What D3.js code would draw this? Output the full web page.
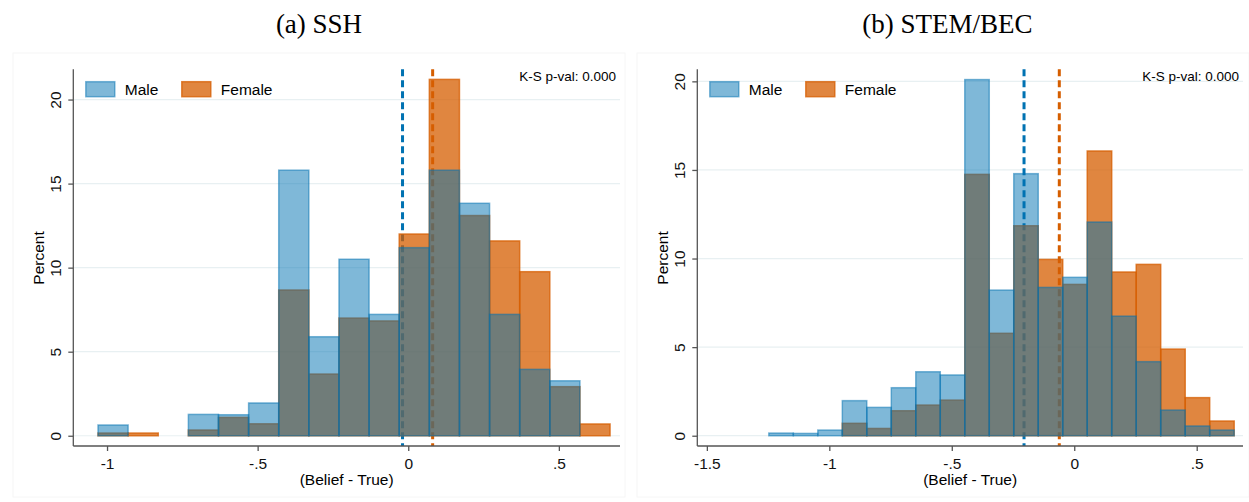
<!DOCTYPE html>
<html>
<head>
<meta charset="utf-8">
<script src="https://cdn.jsdelivr.net/npm/d3@7"></script>
<style>
  body { margin: 0; background: #fff; }
  svg { display: block; }
</style>
</head>
<body>
<div id="chart"></div>
<script>
// histogram bins (width 0.1), percent of each group per bin
var binWidth = 0.1;
var sshBinStart = -1.03;
var sshMale   = [0.64, 0, 0, 1.27, 1.25, 1.95, 15.8, 5.89, 10.5, 7.22, 11.19, 15.8, 13.83, 7.22, 3.95, 3.27, 0];
var sshFemale = [0.16, 0.16, 0, 0.34, 1.09, 0.71, 8.67, 3.67, 7.0, 6.83, 12.0, 21.2, 13.1, 11.59, 9.76, 2.92, 0.70];
var sshMeans  = [-0.019, 0.081];   // male, female

var stemBinStart = -1.247;
var stemMale   = [0.15, 0.13, 0.32, 1.98, 1.60, 2.71, 3.61, 3.43, 20.1, 8.22, 14.79, 8.37, 8.94, 12.06, 6.75, 4.18, 1.45, 0.55, 0.32];
var stemFemale = [0, 0, 0, 0.70, 0.41, 1.41, 1.73, 2.01, 14.75, 5.78, 11.85, 9.95, 8.54, 16.07, 9.24, 9.67, 4.89, 2.15, 0.83];
var stemMeans  = [-0.205, -0.061];

var yTicks = [0, 5, 10, 15, 20];
var sshXTicks = [-1, -0.5, 0, 0.5];
var stemXTicks = [-1.5, -1, -0.5, 0, 0.5];
var groups = ["Male", "Female"];

var W = 1249, H = 502;
var blue = "rgb(0,114,178)", orange = "rgb(213,94,0)";
var sans = "'Liberation Sans', Arial, sans-serif";

var svg = d3.select("#chart").append("svg").attr("width", W).attr("height", H);

// format like stata: -.5, .5
function fmt(v) {
    if (v === 0) return "0";
    return String(v).replace(/^(-?)0\./, "$1.");
}

// turn a list of bin percents into {x0, v} for the non-empty bins
function bins(start, vals) {
    return vals.map((v, i) => ({ x0: start + i * binWidth, v: v })).filter(d => d.v > 0);
}

function panel(opt) {
    var g = svg.append("g");
    // faint outer frame
    g.append("rect").attr("x", opt.frame[0]).attr("y", 53).attr("width", opt.frame[1] - opt.frame[0]).attr("height", 444)
        .attr("fill", "none").attr("stroke", "#f6f6f6");

    var x = d3.scaleLinear().domain(opt.xDomain).range([opt.left, opt.right]);
    var y = d3.scaleLinear().domain(opt.yDomain).range([446, 69.3]);

    // title
    g.append("text").attr("x", opt.titleX).attr("y", 33).attr("text-anchor", "middle")
        .style("font-family", "'Liberation Serif', 'Times New Roman', serif").style("font-size", "27px")
        .text(opt.title);

    // gridlines
    g.selectAll(".grid").data(yTicks).enter().append("line")
        .attr("x1", opt.left).attr("x2", opt.right)
        .attr("y1", d => y(d)).attr("y2", d => y(d))
        .attr("stroke", "#e8f0f2").attr("stroke-width", 1.2);

    // mean lines (under the bars)
    g.selectAll(".mean").data(opt.means).enter().append("line")
        .attr("x1", d => x(d)).attr("x2", d => x(d))
        .attr("y1", 69.3).attr("y2", 446)
        .attr("stroke", (d, i) => i == 0 ? blue : orange)
        .attr("stroke-width", 3).attr("stroke-dasharray", "7,4");

    var bw = x(binWidth) - x(0);
    // female first, male on top with transparency
    g.selectAll(".fem").data(bins(opt.start, opt.female)).enter().append("rect")
        .attr("x", d => x(d.x0))
        .attr("y", d => y(d.v))
        .attr("width", bw)
        .attr("height", d => y(0) - y(d.v))
        .attr("fill", orange).attr("fill-opacity", 0.75)
        .attr("stroke", orange).attr("stroke-opacity", 0.75).attr("stroke-width", 1.5);
    g.selectAll(".mal").data(bins(opt.start, opt.male)).enter().append("rect")
        .attr("x", d => x(d.x0))
        .attr("y", d => y(d.v))
        .attr("width", bw)
        .attr("height", d => y(0) - y(d.v))
        .attr("fill", blue).attr("fill-opacity", 0.5)
        .attr("stroke", blue).attr("stroke-opacity", 0.5).attr("stroke-width", 1.5);

    // axes
    var ax = d3.axisBottom(x).tickValues(opt.xTicks).tickSize(5).tickPadding(7).tickFormat(fmt);
    var xa = g.append("g").attr("transform", "translate(0,446)").call(ax);
    xa.select(".domain").attr("d", "M" + opt.left + ",0H" + opt.right);
    var ay = d3.axisLeft(y).tickValues(yTicks).tickSize(5).tickFormat(fmt);
    var ya = g.append("g").attr("transform", "translate(" + opt.left + ",0)").call(ay);
    ya.select(".domain").attr("d", "M0,69.3V446");
    ya.selectAll(".tick text").attr("transform", "rotate(-90)").attr("x", 0).attr("y", -12)
        .attr("dy", 0).attr("text-anchor", "middle");
    g.selectAll(".domain, .tick line").attr("stroke", "#555").attr("stroke-width", 1.3);
    g.selectAll(".tick text").style("font-family", sans).style("font-size", "15.5px").attr("fill", "#111");

    // axis titles
    g.append("text").attr("x", (opt.left + opt.right) / 2).attr("y", 485).attr("text-anchor", "middle")
        .style("font-family", sans).style("font-size", "15.5px").text("(Belief - True)");
    g.append("text").attr("transform", "translate(" + (opt.left - 29) + ",258) rotate(-90)")
        .attr("text-anchor", "middle")
        .style("font-family", sans).style("font-size", "15.5px").text("Percent");

    // K-S note
    g.append("text").attr("x", opt.right - 4).attr("y", 80.7).attr("text-anchor", "end")
        .style("font-family", sans).style("font-size", "13.5px").text("K-S p-val: 0.000");

    // legend
    var lg = g.selectAll(".leg").data(groups).enter().append("g")
        .attr("transform", (d, i) => "translate(" + (opt.left + 12.5 + i * 96) + ",81.7)");
    lg.append("rect").attr("width", 29).attr("height", 15)
        .attr("fill", (d, i) => i == 0 ? blue : orange).attr("fill-opacity", (d, i) => i == 0 ? 0.5 : 0.75)
        .attr("stroke", (d, i) => i == 0 ? blue : orange).attr("stroke-opacity", (d, i) => i == 0 ? 0.5 : 0.75)
        .attr("stroke-width", 1.5);
    lg.append("text").attr("x", 39).attr("y", 13.5)
        .style("font-family", sans).style("font-size", "15.5px").text(d => d);
}

panel({
    title: "(a) SSH", titleX: 319, frame: [13, 625],
    left: 73.3, right: 620, xDomain: [-1.112, 0.703], yDomain: [-0.61, 21.8],
    start: sshBinStart, male: sshMale, female: sshFemale, means: sshMeans, xTicks: sshXTicks
});
panel({
    title: "(b) STEM/BEC", titleX: 947.5, frame: [637, 1249],
    left: 697.3, right: 1243, xDomain: [-1.539, 0.689], yDomain: [-0.58, 20.68],
    start: stemBinStart, male: stemMale, female: stemFemale, means: stemMeans, xTicks: stemXTicks
});
</script>
</body>
</html>
